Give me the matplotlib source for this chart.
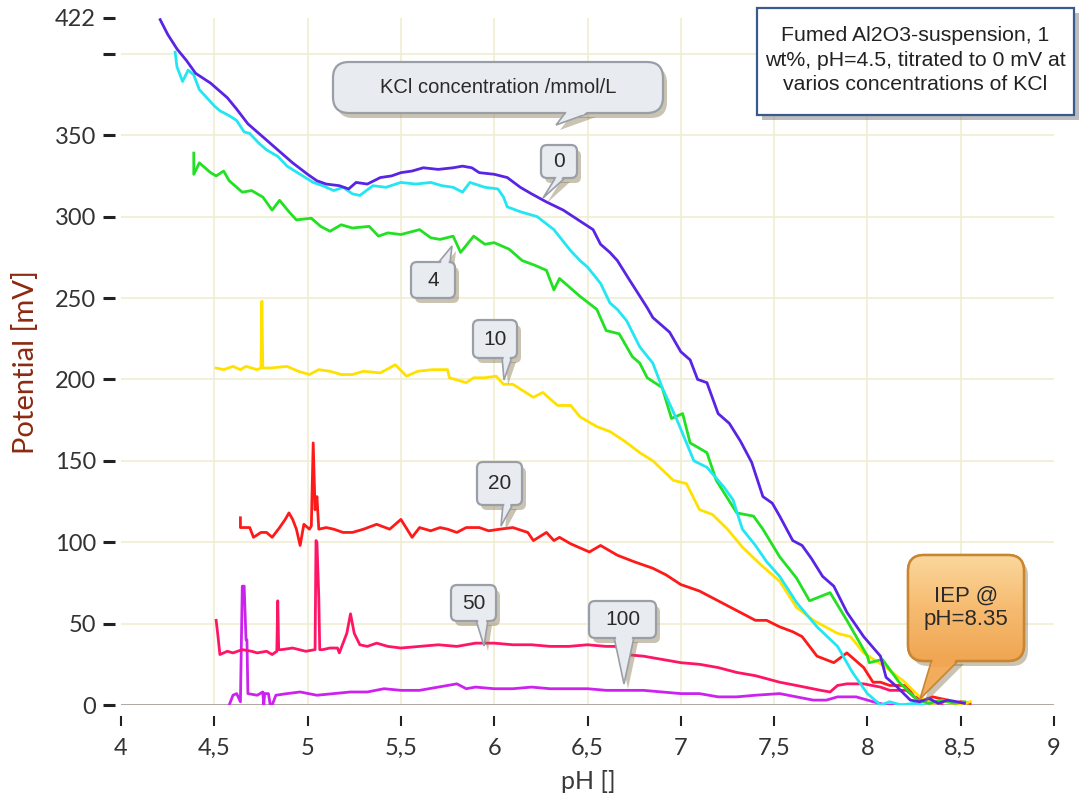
import numpy as np
import matplotlib
matplotlib.use("Agg")
import matplotlib.pyplot as plt
from matplotlib.patches import FancyBboxPatch, Polygon, Rectangle
from matplotlib.colors import LinearSegmentedColormap

plt.rcParams["font.family"] = ["Lato", "DejaVu Sans"]

W, H = 1091, 805

# ---- data: pH / potential (mV) per KCl concentration ----
ph_0 = [4.21, 4.25, 4.30, 4.35, 4.40, 4.48, 4.57, 4.62, 4.68, 4.75,
        4.82, 4.92, 5.00, 5.05, 5.10, 5.17, 5.22, 5.26, 5.32, 5.39,
        5.45, 5.50, 5.56, 5.62, 5.70, 5.78, 5.83, 5.88, 5.92, 6.00,
        6.07, 6.14, 6.20, 6.28, 6.37, 6.45, 6.53, 6.57, 6.62, 6.66,
        6.72, 6.77, 6.82, 6.85, 6.94, 7.00, 7.05, 7.09, 7.14, 7.20,
        7.26, 7.32, 7.38, 7.44, 7.49, 7.53, 7.60, 7.65, 7.70, 7.76,
        7.82, 7.89, 7.98, 8.07, 8.10, 8.16, 8.23, 8.28, 8.33, 8.38,
        8.43, 8.48, 8.52]
mv_0 = [421, 412, 403, 396, 388, 382, 373, 366, 357, 350,
        343, 333, 326, 322, 320, 319, 317, 321, 320, 324,
        325, 327, 328, 330, 329, 330, 331, 330, 327, 326,
        324, 318, 314, 309, 304, 298, 292, 283, 278, 273,
        262, 253, 244, 238, 229, 217, 212, 200, 198, 179,
        173, 162, 149, 128, 124, 116, 101, 98, 90, 79,
        73, 57, 42, 30, 17, 11, 3, 2, 4, 1,
        3, 2, 1]

ph_cyan = [4.29, 4.30, 4.33, 4.36, 4.39, 4.42, 4.46, 4.50, 4.53, 4.58,
           4.62, 4.66, 4.69, 4.74, 4.78, 4.84, 4.89, 4.96, 5.03, 5.08,
           5.14, 5.19, 5.24, 5.28, 5.35, 5.42, 5.50, 5.58, 5.66, 5.72,
           5.78, 5.83, 5.87, 5.95, 6.02, 6.05, 6.07, 6.14, 6.23, 6.32,
           6.41, 6.46, 6.50, 6.57, 6.62, 6.66, 6.71, 6.78, 6.85, 6.90,
           6.98, 7.07, 7.14, 7.23, 7.28, 7.33, 7.40, 7.46, 7.53, 7.62,
           7.73, 7.84, 7.92, 8.00, 8.07, 8.12, 8.18, 8.25, 8.30]
mv_cyan = [401, 392, 383, 390, 387, 378, 373, 368, 365, 362,
           359, 352, 351, 345, 341, 337, 331, 326, 321, 319,
           316, 318, 314, 313, 319, 318, 321, 320, 321, 319,
           318, 315, 321, 318, 317, 312, 306, 303, 300, 292,
           279, 273, 269, 259, 247, 243, 236, 220, 210, 195,
           175, 150, 146, 134, 126, 108, 98, 88, 79, 63,
           48, 36, 20, 7, 0, 2, 0, 1, 0]

ph_4 = [4.39, 4.39, 4.42, 4.44, 4.48, 4.51, 4.55, 4.58, 4.62, 4.65,
        4.70, 4.76, 4.81, 4.85, 4.90, 4.94, 5.02, 5.07, 5.12, 5.18,
        5.24, 5.33, 5.38, 5.43, 5.50, 5.60, 5.66, 5.71, 5.78, 5.82,
        5.89, 5.95, 6.00, 6.08, 6.15, 6.22, 6.28, 6.32, 6.35, 6.40,
        6.46, 6.55, 6.60, 6.67, 6.74, 6.78, 6.82, 6.90, 6.95, 7.01,
        7.05, 7.14, 7.19, 7.30, 7.39, 7.44, 7.53, 7.62, 7.69, 7.80,
        7.89, 8.00, 8.01, 8.08, 8.17, 8.27, 8.33, 8.40, 8.47, 8.52]
mv_4 = [339, 326, 333, 331, 327, 325, 328, 322, 318, 315,
        316, 312, 304, 310, 303, 298, 299, 294, 291, 295,
        293, 294, 288, 290, 289, 292, 287, 286, 288, 278,
        288, 283, 284, 280, 273, 270, 267, 255, 262, 257,
        251, 243, 230, 228, 214, 210, 201, 195, 176, 179,
        161, 155, 138, 118, 116, 108, 91, 78, 64, 69,
        52, 30, 26, 28, 14, 3, 1, 3, 1, 2]

ph_10 = [4.51, 4.55, 4.60, 4.64, 4.67, 4.73, 4.75, 4.755, 4.76, 4.80,
         4.89, 4.95, 5.01, 5.06, 5.12, 5.18, 5.24, 5.30, 5.39, 5.47,
         5.53, 5.59, 5.67, 5.75, 5.76, 5.85, 5.89, 5.95, 6.01, 6.05,
         6.10, 6.21, 6.26, 6.34, 6.41, 6.46, 6.55, 6.62, 6.70, 6.78,
         6.85, 6.96, 7.03, 7.10, 7.17, 7.25, 7.33, 7.43, 7.53, 7.62,
         7.71, 7.84, 7.91, 7.98, 8.10, 8.19, 8.28, 8.35, 8.42, 8.50,
         8.55]
mv_10 = [207, 206, 208, 206, 208, 206, 207, 248, 207, 207,
         208, 205, 203, 206, 205, 203, 203, 205, 204, 209,
         202, 205, 206, 206, 201, 198, 201, 201, 202, 197,
         197, 189, 192, 184, 184, 177, 171, 168, 162, 155,
         150, 138, 136, 120, 117, 108, 97, 86, 76, 60,
         52, 44, 42, 32, 23, 15, 5, 1, 2, 0,
         2]

ph_20 = [4.64, 4.64, 4.66, 4.69, 4.71, 4.75, 4.78, 4.81, 4.85, 4.88,
         4.90, 4.92, 4.94, 4.96, 4.98, 5.01, 5.02, 5.03, 5.04, 5.05,
         5.06, 5.10, 5.14, 5.19, 5.24, 5.30, 5.37, 5.44, 5.50, 5.56,
         5.60, 5.66, 5.71, 5.75, 5.80, 5.85, 5.92, 5.97, 6.03, 6.10,
         6.18, 6.21, 6.28, 6.32, 6.35, 6.41, 6.51, 6.57, 6.66, 6.75,
         6.85, 6.92, 7.00, 7.10, 7.20, 7.30, 7.40, 7.46, 7.53, 7.60,
         7.65, 7.73, 7.82, 7.89, 7.98, 8.03, 8.07, 8.12, 8.21, 8.25,
         8.30, 8.35, 8.43, 8.46, 8.50, 8.55]
mv_20 = [115, 109, 109, 109, 103, 106, 106, 103, 109, 114,
         118, 114, 108, 98, 111, 108, 110, 161, 120, 128,
         108, 109, 108, 106, 106, 108, 111, 108, 114, 103,
         109, 107, 109, 108, 106, 109, 109, 107, 108, 109,
         106, 101, 106, 101, 103, 99, 94, 98, 92, 88,
         84, 80, 74, 70, 64, 58, 52, 52, 48, 45,
         42, 30, 26, 32, 23, 14, 14, 12, 12, 5,
         3, 5, 3, 1, 2, 1]

ph_50 = [4.51, 4.52, 4.53, 4.57, 4.60, 4.65, 4.70, 4.73, 4.78, 4.81,
         4.835, 4.84, 4.845, 4.86, 4.92, 4.99, 5.04, 5.045, 5.05, 5.06,
         5.065, 5.08, 5.12, 5.16, 5.17, 5.21, 5.23, 5.25, 5.28, 5.32,
         5.37, 5.43, 5.50, 5.60, 5.70, 5.80, 5.90, 6.00, 6.10, 6.20,
         6.30, 6.40, 6.50, 6.60, 6.65, 6.70, 6.80, 6.90, 7.00, 7.10,
         7.20, 7.30, 7.40, 7.53, 7.62, 7.75, 7.80, 7.84, 7.89, 7.98,
         8.07, 8.12, 8.21, 8.25, 8.32, 8.40]
mv_50 = [52, 42, 31, 33, 32, 34, 33, 32, 33, 31,
         33, 64, 34, 34, 35, 33, 34, 101, 100, 66,
         34, 34, 35, 35, 32, 44, 56, 44, 37, 36,
         38, 36, 35, 36, 37, 36, 38, 38, 37, 37,
         36, 36, 37, 36, 36, 31, 30, 28, 26, 25,
         23, 20, 18, 14, 12, 9, 8, 12, 13, 13,
         11, 9, 9, 5, 2, 1]

ph_100 = [4.58, 4.60, 4.62, 4.64, 4.65, 4.66, 4.67, 4.675, 4.68, 4.73,
          4.76, 4.765, 4.77, 4.79, 4.80, 4.81, 4.83, 4.89, 4.96, 5.05,
          5.14, 5.23, 5.32, 5.41, 5.50, 5.60, 5.70, 5.80, 5.85, 5.90,
          6.00, 6.10, 6.20, 6.30, 6.40, 6.50, 6.60, 6.70, 6.80, 6.90,
          7.00, 7.10, 7.20, 7.30, 7.40, 7.53, 7.62, 7.71, 7.78, 7.84,
          7.94, 8.03, 8.10, 8.20]
mv_100 = [0, 6, 7, 2, 73, 73, 40, 40, 7, 6,
          8, 0, 7, 7, 0, 0, 6, 7, 8, 6,
          7, 8, 8, 10, 9, 9, 11, 13, 10, 11,
          10, 10, 11, 10, 10, 10, 9, 9, 9, 8,
          7, 7, 5, 5, 6, 7, 5, 3, 3, 5,
          5, 2, 0, 0]

x_ticks = [4, 4.5, 5, 5.5, 6, 6.5, 7, 7.5, 8, 8.5, 9]
x_labels = ["4", "4,5", "5", "5,5", "6", "6,5", "7", "7,5", "8", "8,5", "9"]
y_ticks = [0, 50, 100, 150, 200, 250, 300, 350, 400, 422]
y_labels = ["0", "50", "100", "150", "200", "250", "300", "350", "", "422"]

series = [
    (ph_100, mv_100, "#cc22ee"),
    (ph_50, mv_50, "#ff1566"),
    (ph_20, mv_20, "#ff1a1a"),
    (ph_10, mv_10, "#ffe100"),
    (ph_4, mv_4, "#22e022"),
    (ph_cyan, mv_cyan, "#22e6f2"),
    (ph_0, mv_0, "#5a24e4"),
]

fig = plt.figure(figsize=(W / 100, H / 100), dpi=100)
fig.patch.set_facecolor("white")
ax = fig.add_axes([121 / W, 1 - 705 / H, (1054 - 121) / W, (705 - 18) / H])
ax.set_xlim(4, 9)
ax.set_ylim(0, 422)

GRID = "#f1edd3"
for v in y_ticks[1:-1]:
    ax.axhline(v, color=GRID, lw=1.2, zorder=0)
for v in x_ticks[1:-1]:
    ax.axvline(v, color=GRID, lw=1.2, zorder=0)
ax.axhline(0, color="#a89f98", lw=2, zorder=1)

for xs, ys, col in series:
    ax.plot(xs, ys, color=col, lw=2.0, solid_joinstyle="round", zorder=3)

for s in ax.spines.values():
    s.set_visible(False)
ax.spines["left"].set_position(("outward", 4))
ax.spines["bottom"].set_position(("outward", 8))
ax.set_xticks(x_ticks)
ax.set_xticklabels(x_labels)
ax.set_yticks(y_ticks)
ax.set_yticklabels(y_labels)
ax.tick_params(axis="y", length=9, width=2.2, color="#222222", pad=5,
               labelsize=17, labelcolor="#333333")
ax.tick_params(axis="x", length=7, width=1.5, color="#222222", pad=9,
               labelsize=17, labelcolor="#333333")

fig.text(26 / W, 1 - 362 / H, "Potential [mV]", rotation=90, ha="center",
         va="center", fontsize=21, color="#8b2a10")
fig.text(588 / W, 1 - 781 / H, "pH []", ha="center", va="center",
         fontsize=18, color="#3a3a3a")

# ---- overlay in pixel coordinates for the callouts ----
ov = fig.add_axes([0, 0, 1, 1])
ov.set_xlim(0, W)
ov.set_ylim(H, 0)
ov.axis("off")
ov.patch.set_alpha(0)

SHADOW = "#8a7a55"
ARIAL = ["Liberation Sans", "DejaVu Sans"]


def callout(x0, y0, x1, y1, tail, text, fs, r=6, fc="#e8ebf0", ec="#9a9ea6",
            sh=(4, 5), grad=None):
    w, h = x1 - x0, y1 - y0
    style = f"round,pad=0,rounding_size={r}"
    (b1x, by), (b2x, _), (tx, ty) = tail
    dx, dy = sh
    ov.add_patch(FancyBboxPatch((x0 + dx, y0 + dy), w, h, boxstyle=style,
                                fc=SHADOW, ec="none", alpha=0.45, zorder=5))
    ov.add_patch(Polygon([(b1x + dx, by + dy), (b2x + dx, by + dy), (tx + dx, ty + dy)],
                         closed=True, fc=SHADOW, ec="none", alpha=0.45, zorder=5))
    ov.add_patch(Polygon(tail, closed=True, fc=fc, ec=ec, lw=1.2, zorder=6))
    box = FancyBboxPatch((x0, y0), w, h, boxstyle=style, fc=fc, ec=ec, lw=1.6,
                         zorder=7)
    ov.add_patch(box)
    if grad is not None:
        cmap = LinearSegmentedColormap.from_list("g", grad)
        im = ov.imshow(np.linspace(0, 1, 100).reshape(-1, 1), cmap=cmap,
                       extent=(x0, x1, y1, y0), aspect="auto", zorder=7.5)
        im.set_clip_path(box)
        ov.add_patch(FancyBboxPatch((x0, y0), w, h, boxstyle=style, fc="none",
                                    ec=ec, lw=1.8, zorder=7.6))
    sgn = np.sign(ty - by)
    k = 0.2
    cover = [(b1x + 1.5, by - 3 * sgn), (b2x - 1.5, by - 3 * sgn),
             (b2x - 1.5 + (tx - b2x) * k, by + (ty - by) * k),
             (b1x + 1.5 + (tx - b1x) * k, by + (ty - by) * k)]
    ov.add_patch(Polygon(cover, closed=True, fc=fc if grad is None else grad[-1],
                         ec="none", zorder=8))
    ov.text((x0 + x1) / 2, (y0 + y1) / 2, text, ha="center", va="center",
            fontsize=fs, color="#2a2a2a", family=ARIAL, zorder=9,
            linespacing=1.15)


callout(333, 62, 663, 113, [(566, 112), (592, 112), (556, 125)],
        "KCl concentration /mmol/L", 14.5, r=16)
callout(541, 145, 577, 178, [(556, 177), (566, 177), (543, 198)], "0", 15)
callout(411, 262, 455, 298, [(438, 263), (450, 263), (452, 246)], "4", 15)
callout(473, 320, 517, 358, [(502, 357), (512, 357), (504, 380)], "10", 15)
callout(477, 462, 522, 505, [(503, 504), (513, 504), (501, 526)], "20", 15)
callout(451, 585, 496, 621, [(476, 620), (488, 620), (484, 646)], "50", 15)
callout(589, 601, 656, 638, [(614, 637), (634, 637), (624, 684)], "100", 15)
callout(908, 555, 1024, 661, [(932, 659), (960, 659), (920, 699)],
        "IEP @\npH=8.35", 16, r=16, fc="#f2ad5c", ec="#c98530",
        grad=["#fbd79c", "#f6bb70", "#f0a653"])

# description box
ov.add_patch(Rectangle((762, 13), 317, 107, fc="#7d7d7d", ec="none",
                       alpha=0.5, zorder=5))
ov.add_patch(Rectangle((757, 8), 317, 107, fc="white", ec="#3a5a8c", lw=1.6,
                       zorder=6))
ov.text(915.5, 60, "Fumed Al2O3-suspension, 1\nwt%, pH=4.5, titrated to 0 mV at\n"
        "varios concentrations of KCl", ha="center", va="center", fontsize=15.3,
        color="#222222", family=ARIAL, linespacing=1.38, zorder=7)

fig.savefig("out.png", dpi=100, facecolor="white")
